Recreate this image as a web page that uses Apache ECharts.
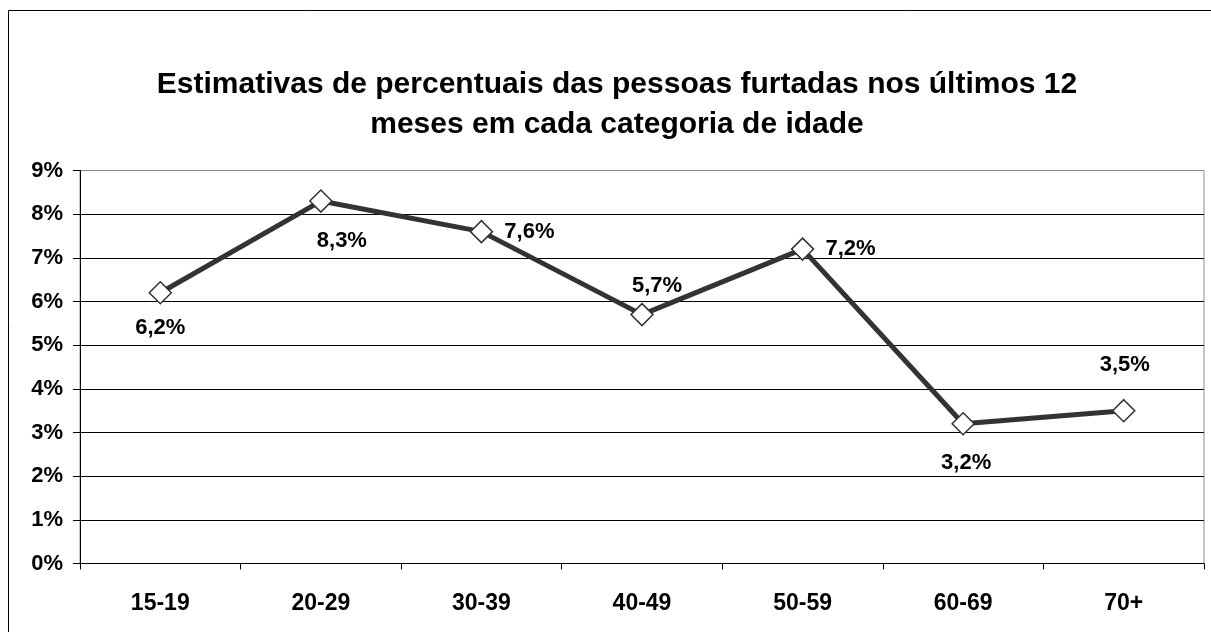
<!DOCTYPE html>
<html>
<head>
<meta charset="utf-8">
<script src="https://cdn.jsdelivr.net/npm/echarts@6/dist/echarts.min.js"></script>
<style>
  html, body { margin: 0; padding: 0; background: #fff; }
  #chart { width: 1211px; height: 632px; }
</style>
</head>
<body>
<div id="chart"></div>
<script>
// faixas etarias e percentuais
var categorias = ['15-19', '20-29', '30-39', '40-49', '50-59', '60-69', '70+'];
var valores = [6.2, 8.3, 7.6, 5.7, 7.2, 3.2, 3.5];
var yTicks = [0, 1, 2, 3, 4, 5, 6, 7, 8, 9];

// deslocamento dos rotulos em relacao ao marcador
var labelOffsets = [[0, 35], [21, 40], [48, 0], [15, -29], [48, 0], [3, 39], [1, -46]];

var fonte = '"Liberation Sans", Arial, sans-serif';

var chart = echarts.init(document.getElementById('chart'), null, { renderer: 'canvas' });

var gridColors = yTicks.map(function (t) { return t === 9 ? '#8c8c8c' : '#000'; });

chart.setOption({
  animation: false,
  backgroundColor: '#fff',
  title: {
    text: 'Estimativas de percentuais das pessoas furtadas nos últimos 12\nmeses em cada categoria de idade',
    left: 612,
    textAlign: 'center',
    top: 60,
    textStyle: {
      fontFamily: fonte,
      fontWeight: 'bold',
      fontSize: 30,
      lineHeight: 40,
      color: '#000'
    }
  },
  graphic: [{
    type: 'rect',
    shape: { x: 8.5, y: 10.5, width: 1220, height: 640 },
    style: { fill: null, stroke: '#000', lineWidth: 1 },
    silent: true
  }],
  grid: {
    left: 80,
    right: 7,
    top: 170.5,
    bottom: 68.5,
    show: true,
    borderColor: '#8c8c8c',
    borderWidth: 1,
    containLabel: false
  },
  xAxis: {
    type: 'category',
    data: categorias,
    boundaryGap: true,
    axisLine: { lineStyle: { color: '#000', width: 1 } },
    axisTick: { show: true, length: 6, lineStyle: { color: '#000' } },
    axisLabel: {
      margin: 29,
      fontFamily: fonte,
      fontWeight: 'bold',
      fontSize: 23,
      color: '#000'
    },
    splitLine: { show: false }
  },
  yAxis: {
    type: 'value',
    min: 0,
    max: 9,
    interval: 1,
    axisLine: { show: true, lineStyle: { color: '#000', width: 1 } },
    axisTick: { show: true, length: 7, lineStyle: { color: '#000' } },
    axisLabel: {
      margin: 17,
      formatter: '{value}%',
      fontFamily: fonte,
      fontWeight: 'bold',
      fontSize: 22,
      color: '#000'
    },
    splitLine: { show: true, lineStyle: { color: gridColors, width: 1 } }
  },
  series: [{
    type: 'line',
    data: valores.map(function (v, i) {
      return {
        value: v,
        label: { offset: labelOffsets[i] }
      };
    }),
    symbol: 'diamond',
    symbolSize: 22,
    showAllSymbol: true,
    lineStyle: { color: '#333', width: 5 },
    itemStyle: { color: '#fff', borderColor: '#333', borderWidth: 1.5 },
    label: {
      show: true,
      position: 'inside',
      formatter: function (p) { return String(p.value).replace('.', ',') + '%'; },
      fontFamily: fonte,
      fontWeight: 'bold',
      fontSize: 22,
      color: '#000'
    },
    z: 3
  }]
});
</script>
</body>
</html>
